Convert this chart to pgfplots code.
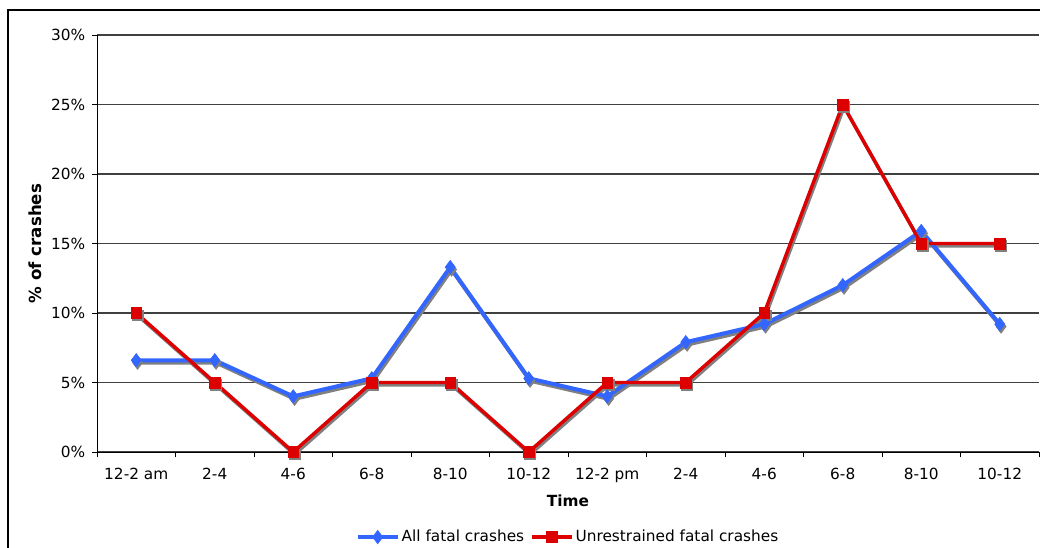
\documentclass[border=0pt]{standalone}
\usepackage{pgfplots}
\pgfplotsset{compat=1.18}
\usepackage{fontspec}
\setmainfont{DejaVu Sans}

\definecolor{allblue}{RGB}{51,102,255}
\definecolor{unred}{RGB}{221,0,0}
\definecolor{shadowgray}{RGB}{128,128,128}

% share of fatal crashes by two-hour time slot (percent)
\pgfplotstableread{
x all unres
0 6.6 10
1 6.6 5
2 4.0 0
3 5.3 5
4 13.3 5
5 5.3 0
6 4.0 5
7 7.9 5
8 9.2 10
9 12.0 25
10 15.9 15
11 9.2 15
}\crashdata

\begin{document}
\begin{tikzpicture}
\useasboundingbox (0pt,0pt) rectangle (780pt,410.25pt);
% chart frame
\draw[black, line width=0.9pt] (6pt,-4pt) -- (6pt,402.75pt) -- (784pt,402.75pt);
\begin{axis}[
  at={(72.75pt,71.25pt)}, anchor=south west,
  scale only axis,
  width=706.5pt, height=312.75pt,
  clip=false,
  xmin=-0.5, xmax=11.5,
  ymin=0, ymax=30,
  axis x line*=bottom, axis y line*=left,
  axis line style={black, line width=0.75pt, -},
  xtick={0,...,11},
  xticklabels={12-2 am,2-4,4-6,6-8,8-10,10-12,12-2 pm,2-4,4-6,6-8,8-10,10-12},
  major x tick style={draw=none},
  minor xtick={-0.5,0.5,...,11.5},
  minor x tick style={black, line width=0.75pt},
  ytick={0,5,...,30},
  yticklabel={\pgfmathprintnumber{\tick}\%},
  y tick style={black, line width=0.75pt},
  tick align=outside,
  major tick length=3.75pt, minor tick length=3.75pt,
  ymajorgrids,
  grid style={black!75, line width=0.9pt},
  /pgf/number format/assume math mode=true,
  tick label style={font=\fontsize{11.5}{13}\selectfont, text=black},
  xticklabel style={yshift=-4.5pt},
  yticklabel style={xshift=-1.5pt},
  every axis y label/.style={at={(axis description cs:-0.0658,0.5)}, rotate=90, anchor=center},
  every axis x label/.style={at={(axis description cs:0.5,-0.117)}, anchor=center},
  ylabel={\bfseries\fontsize{12.5}{14}\selectfont \% of crashes},
  xlabel={\bfseries\fontsize{11.5}{13}\selectfont Time},
  legend style={at={(axis description cs:0.5,-0.204)}, anchor=center,
    draw=none, fill=none, legend columns=2,
    font=\fontsize{11.5}{13}\selectfont,
    /tikz/every even column/.append style={column sep=3pt},
    inner sep=0pt, nodes={inner sep=1.5pt}},
  legend image code/.code={\draw[mark repeat=2, mark phase=2] plot coordinates {(0pt,0pt) (15pt,0pt) (30pt,0pt)};},
]
% drop shadows
\addplot[forget plot, shadowgray, line width=3pt, mark=diamond*, mark size=5pt,
  mark options={solid, fill=shadowgray, line width=0.5pt}, xshift=1pt, yshift=-1.8pt]
  table[x=x, y=all] {\crashdata};
\addplot[forget plot, shadowgray, line width=2.6pt, mark=square*, mark size=4pt,
  mark options={solid, fill=shadowgray, line width=0.5pt}, xshift=1pt, yshift=-1.8pt]
  table[x=x, y=unres] {\crashdata};
% series
\addplot[allblue, line width=3pt, mark=diamond*, mark size=5pt,
  mark options={solid, fill=allblue, line width=0.5pt}]
  table[x=x, y=all] {\crashdata};
\addlegendentry{All fatal crashes}
\addplot[unred, line width=2.6pt, mark=square*, mark size=4pt,
  mark options={solid, fill=unred, line width=0.5pt}]
  table[x=x, y=unres] {\crashdata};
\addlegendentry{Unrestrained fatal crashes}
\end{axis}
\end{tikzpicture}
\end{document}
